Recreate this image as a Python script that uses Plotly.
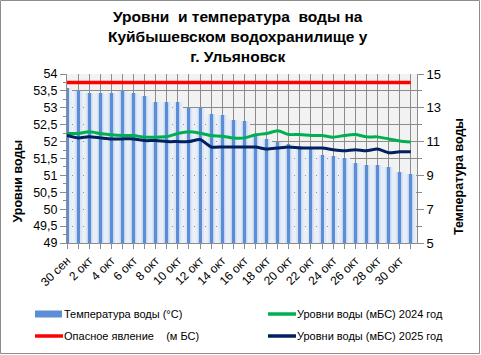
import plotly.graph_objects as go

# ---------------- data ----------------
dates = ["30 сен", "1 окт", "2 окт", "3 окт", "4 окт", "5 окт", "6 окт", "7 окт",
         "8 окт", "9 окт", "10 окт", "11 окт", "12 окт", "13 окт", "14 окт", "15 окт",
         "16 окт", "17 окт", "18 окт", "19 окт", "20 окт", "21 окт", "22 окт", "23 окт",
         "24 окт", "25 окт", "26 окт", "27 окт", "28 окт", "29 окт", "30 окт", "31 окт"]

temperature = [14.15, 14.0, 13.9, 13.9, 13.9, 14.0, 13.9, 13.7,
               13.35, 13.35, 13.35, 13.0, 13.0, 12.65, 12.55, 12.3,
               12.2, 11.35, 11.15, 11.0, 10.85, 10.75, 10.6, 10.2,
               10.15, 10.03, 9.73, 9.6, 9.6, 9.5, 9.2, 9.08]

level_2024 = [52.24, 52.24, 52.29, 52.24, 52.2, 52.18, 52.18, 52.13,
              52.13, 52.15, 52.24, 52.29, 52.25, 52.18, 52.16, 52.11,
              52.11, 52.2, 52.24, 52.32, 52.21, 52.21, 52.18, 52.18,
              52.13, 52.18, 52.21, 52.14, 52.14, 52.08, 52.02, 51.99]

level_2025 = [52.18, 52.11, 52.14, 52.11, 52.08, 52.08, 52.08, 52.03,
              52.03, 52.0, 52.0, 52.0, 52.06, 51.84, 51.84, 51.84,
              51.84, 51.84, 51.78, 51.81, 51.84, 51.81, 51.81, 51.81,
              51.76, 51.73, 51.76, 51.73, 51.78, 51.67, 51.7, 51.7]

danger_level = [53.75] * len(dates)

title_text = "Уровни  и температура  воды на<br>Куйбышевском водохранилище у<br>г. Ульяновск"
name_temp = "Температура воды (°C)"
name_2024 = "Уровни воды (мБС) 2024 год"
name_danger = "Опасное явление\u00a0\u00a0\u00a0\u00a0(м БС)"
name_2025 = "Уровни воды (мБС) 2025 год"
left_title = "Уровни воды"
right_title = "Температура воды"

# ---------------- colours / geometry ----------------
C_BAR = "#5b8ed6"
C_2024 = "#00b050"
C_DANGER = "#ff0000"
C_2025 = "#002060"
GRID = "#8c8c8c"
FONT = "Liberation Sans"

W, H = 481, 355
L, R, T, B = 67, 64, 74, 112
pw = W - L - R
ph = H - T - B


def px_x(px):
    return (px - L) / pw


def px_y(py):
    return (T + ph - py) / ph


x = list(range(len(dates)))
ticktext = [d if i % 2 == 0 else "" for i, d in enumerate(dates)]

fig = go.Figure()
# soft glow layers of the bars (gradient imitation)
for w, c in [(0.96, "#e8eef7"), (0.62, "#dae4f3"), (0.42, "#c5d6f0")]:
    fig.add_trace(go.Bar(x=x, y=temperature, width=w, yaxis="y",
                         marker=dict(color=c, line_width=0),
                         showlegend=False, hoverinfo="skip"))
fig.add_trace(go.Bar(x=x, y=temperature, width=0.27, yaxis="y", name=name_temp,
                     marker=dict(color=C_BAR, line_width=0), showlegend=False))
fig.add_trace(go.Scatter(x=x, y=level_2024, yaxis="y2", mode="lines", name=name_2024,
                         line=dict(color=C_2024, width=3, shape="spline", smoothing=0.6),
                         showlegend=False))
fig.add_trace(go.Scatter(x=x, y=danger_level, yaxis="y2", mode="lines", name=name_danger,
                         line=dict(color=C_DANGER, width=3.5), showlegend=False))
fig.add_trace(go.Scatter(x=x, y=level_2025, yaxis="y2", mode="lines", name=name_2025,
                         line=dict(color=C_2025, width=3, shape="spline", smoothing=0.6),
                         showlegend=False))

fig.update_layout(
    width=W, height=H,
    margin=dict(l=L, r=R, t=T, b=B, autoexpand=False),
    paper_bgcolor="white", plot_bgcolor="#f2f2f2",
    barmode="overlay", bargap=0,
    separators=", ",
    font=dict(family=FONT, size=12, color="#000000"),
    showlegend=False,
    xaxis=dict(range=[0, 31.56], tickmode="array", tickvals=x, ticktext=ticktext,
               tickangle=-45, showgrid=True, gridcolor=GRID, gridwidth=1,
               ticks="outside", ticklen=5, tickcolor=GRID,
               showline=True, linecolor=GRID, zeroline=False,
               tickfont=dict(size=12, color="#000000")),
    yaxis=dict(side="right", range=[5, 15], tick0=5, dtick=2,
               showgrid=True, gridcolor=GRID, gridwidth=1,
               ticks="outside", ticklen=6, tickcolor=GRID,
               minor=dict(dtick=1, showgrid=True, gridcolor=GRID, gridwidth=1,
                          ticks="outside", ticklen=4, tickcolor=GRID),
               showline=True, linecolor=GRID, zeroline=False,
               tickfont=dict(size=13, color="#000000")),
    yaxis2=dict(side="left", overlaying="y", range=[49, 54], tick0=49, dtick=0.5,
                showgrid=False, ticks="outside", ticklen=6, tickcolor=GRID,
                minor=dict(dtick=0.25, ticks="outside", ticklen=3, tickcolor=GRID),
                showline=True, linecolor=GRID, zeroline=False,
                tickfont=dict(size=12.5, color="#000000")),
)

# title
fig.add_annotation(text=title_text, xref="paper", yref="paper",
                   x=px_x(238), y=px_y(6), xanchor="center", yanchor="top",
                   showarrow=False, align="center",
                   font=dict(family=FONT, size=15.5, color="#000000", weight="bold"))

# axis titles
fig.add_annotation(text=left_title, textangle=-90, xref="paper", yref="paper",
                   x=px_x(17.5), y=px_y(181), xanchor="center", yanchor="middle",
                   showarrow=False, font=dict(family=FONT, size=12.5, color="#000000", weight="bold"))
fig.add_annotation(text=right_title, textangle=-90, xref="paper", yref="paper",
                   x=px_x(459), y=px_y(177), xanchor="center", yanchor="middle",
                   showarrow=False, font=dict(family=FONT, size=12.5, color="#000000", weight="bold"))

# legend (drawn manually in two columns)
legend_items = [
    (name_temp, C_BAR, "rect", 35, 314),
    (name_2024, C_2024, "line", 268, 314),
    (name_danger, C_DANGER, "line", 35, 336),
    (name_2025, C_2025, "line", 268, 336),
]
for label, color, kind, lx, ly in legend_items:
    if kind == "rect":
        fig.add_shape(type="rect", xref="paper", yref="paper",
                      x0=px_x(lx), x1=px_x(lx + 27), y0=px_y(ly + 3.5), y1=px_y(ly - 3.5),
                      line_width=0, fillcolor=color)
    else:
        fig.add_shape(type="line", xref="paper", yref="paper",
                      x0=px_x(lx), x1=px_x(lx + 28), y0=px_y(ly), y1=px_y(ly),
                      line=dict(color=color, width=3.5))
    fig.add_annotation(text=label, xref="paper", yref="paper",
                       x=px_x(lx + 27), y=px_y(ly), xanchor="left", yanchor="middle",
                       showarrow=False, font=dict(family=FONT, size=11, color="#000000"))

# outer chart border
fig.add_shape(type="rect", xref="paper", yref="paper",
              x0=px_x(0.5), x1=px_x(W - 1.5),
              y0=px_y(H - 1.5), y1=px_y(0.5),
              line=dict(color="#8c8c8c", width=1), fillcolor="rgba(0,0,0,0)", layer="below")

fig.write_html("out.html",
               config={"displayModeBar": False},
               post_script="document.body.style.margin='0px';document.body.style.overflow='hidden';")
